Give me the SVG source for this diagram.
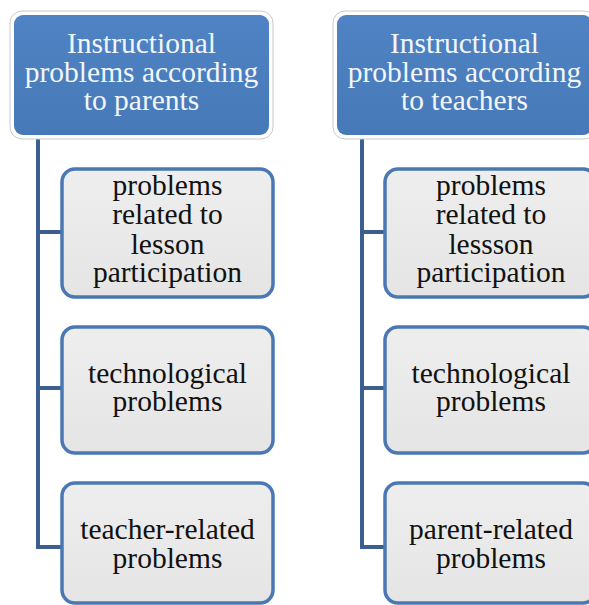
<svg xmlns="http://www.w3.org/2000/svg" width="589" height="605" viewBox="0 0 589 605">
<defs>
<linearGradient id="gb" x1="0" y1="0" x2="0" y2="1"><stop offset="0" stop-color="#4f83c3"/><stop offset="1" stop-color="#4779b8"/></linearGradient>
<linearGradient id="gg" x1="0" y1="0" x2="0" y2="1"><stop offset="0" stop-color="#eeeeee"/><stop offset="1" stop-color="#e5e5e5"/></linearGradient>
</defs>
<style>
.outer{fill:#ffffff;stroke:#c9c9c9;stroke-width:1}
.head{fill:url(#gb)}
.child{fill:url(#gg);stroke:#4a78b4;stroke-width:3.5}
.ht{font-family:"Liberation Serif","Times New Roman",serif;font-size:29.5px;fill:#f2f6fa;text-anchor:middle}
.ct{font-family:"Liberation Serif","Times New Roman",serif;font-size:29.5px;fill:#111111;text-anchor:middle}
.conn{fill:none;stroke:#3d5f8f;stroke-width:4}
</style>
<g id="connectors">
<path class="conn" d="M38,139 V547 H62 M38,232 H62 M38,388 H62"/>
<path class="conn" d="M362,139 V547 H385 M362,232 H385 M362,388 H385"/>
</g>
<g id="parents">
<rect class="outer" x="10" y="11" width="263" height="128" rx="12"/>
<rect class="head" x="14" y="15" width="255" height="120" rx="9"/>
<text class="ht" x="141.5" y="53">Instructional</text>
<text class="ht" x="141.5" y="82">problems according</text>
<text class="ht" x="141.5" y="110">to parents</text>
</g>
<g id="teachers">
<rect class="outer" x="333" y="11" width="263" height="128" rx="12"/>
<rect class="head" x="337" y="15" width="255" height="120" rx="9"/>
<text class="ht" x="464.5" y="53">Instructional</text>
<text class="ht" x="464.5" y="82">problems according</text>
<text class="ht" x="464.5" y="110">to teachers</text>
</g>
<g id="p1">
<rect class="child" x="62" y="169" width="211" height="128" rx="13"/>
<text class="ct" x="167.5" y="195">problems</text>
<text class="ct" x="167.5" y="224">related to</text>
<text class="ct" x="167.5" y="254">lesson</text>
<text class="ct" x="167.5" y="282">participation</text>
</g>
<g id="p2">
<rect class="child" x="62" y="327" width="211" height="126" rx="13"/>
<text class="ct" x="167.5" y="383">technological</text>
<text class="ct" x="167.5" y="411">problems</text>
</g>
<g id="p3">
<rect class="child" x="62" y="483" width="211" height="120" rx="13"/>
<text class="ct" x="167.5" y="539">teacher-related</text>
<text class="ct" x="167.5" y="568">problems</text>
</g>
<g id="t1">
<rect class="child" x="385" y="169" width="211" height="128" rx="13"/>
<text class="ct" x="491" y="195">problems</text>
<text class="ct" x="491" y="224">related to</text>
<text class="ct" x="491" y="254">lessson</text>
<text class="ct" x="491" y="282">participation</text>
</g>
<g id="t2">
<rect class="child" x="385" y="327" width="211" height="126" rx="13"/>
<text class="ct" x="491" y="383">technological</text>
<text class="ct" x="491" y="411">problems</text>
</g>
<g id="t3">
<rect class="child" x="385" y="483" width="211" height="120" rx="13"/>
<text class="ct" x="491" y="539">parent-related</text>
<text class="ct" x="491" y="568">problems</text>
</g>
</svg>
